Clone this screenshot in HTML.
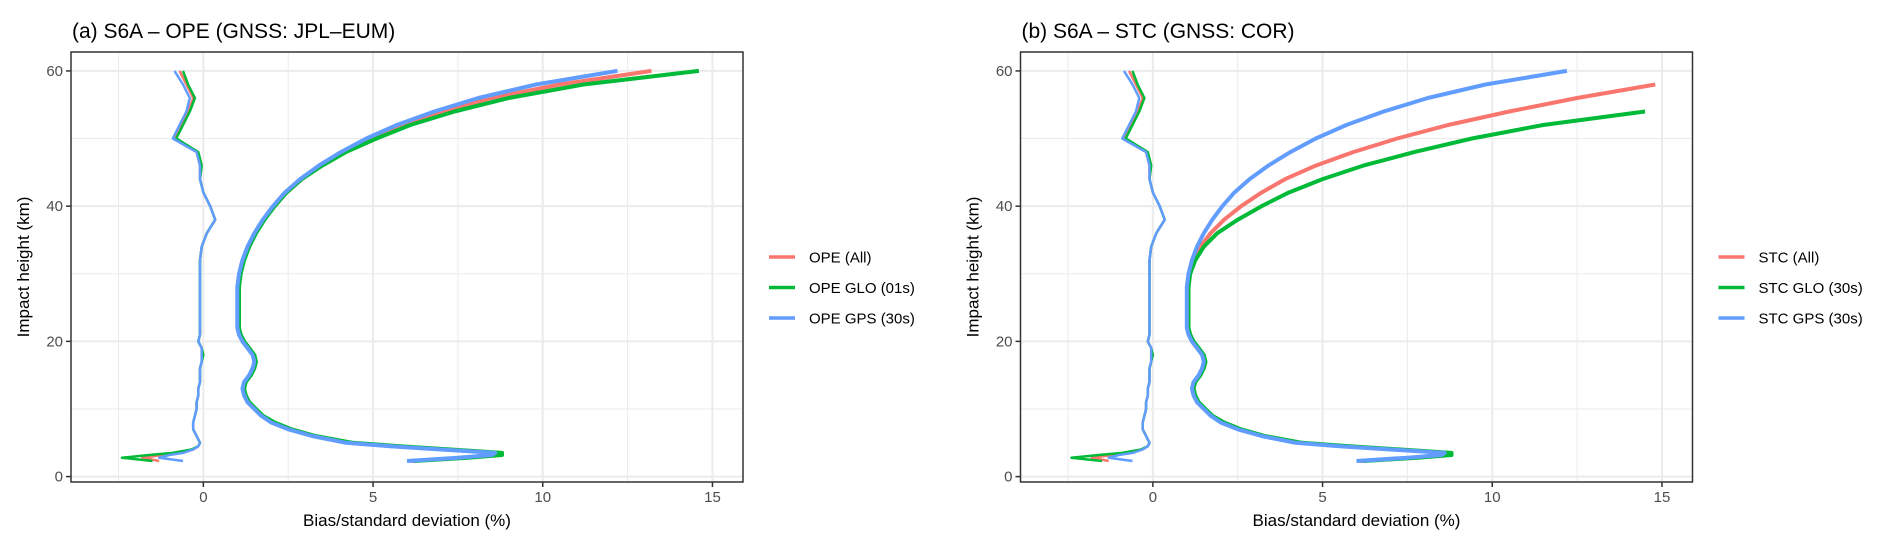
<!DOCTYPE html>
<html><head><meta charset="utf-8"><style>
body{margin:0;background:#fff;}
svg{display:block;font-family:"Liberation Sans",Arial,sans-serif;}
</style></head><body>
<svg id="fig" width="1892" height="549" viewBox="0 0 1892 549" xmlns="http://www.w3.org/2000/svg"></svg>
<script>
const xTicks=[0,5,10,15];
const yTicks=[0,20,40,60];
const H=[2.3,2.8,3.2,3.5,4,4.5,5,6,7,8,9,10,11,12,13,14,15,16,17,18,19,20,21,22,24,26,28,30,32,34,36,38,40,42,44,46,48,50,52,54,56,58,60];
const sdOpeGps=[6.0,7.5,8.5,8.6,7.0,5.5,4.2,3.2,2.5,2.0,1.7,1.5,1.3,1.2,1.15,1.2,1.35,1.45,1.5,1.45,1.3,1.15,1.05,1.0,1.0,1.0,1.0,1.05,1.15,1.3,1.5,1.75,2.05,2.4,2.85,3.4,4.05,4.8,5.7,6.8,8.1,9.8,12.2];
const sdOpeAll=[6.1,7.7,8.7,8.7,7.1,5.6,4.3,3.25,2.55,2.05,1.72,1.52,1.32,1.22,1.17,1.22,1.37,1.47,1.52,1.47,1.32,1.17,1.07,1.02,1.02,1.02,1.02,1.07,1.17,1.32,1.52,1.78,2.1,2.45,2.9,3.45,4.15,4.95,5.9,7.1,8.5,10.5,13.2];
const sdOpeGlo=[6.2,7.8,8.8,8.8,7.3,5.8,4.4,3.3,2.6,2.1,1.75,1.55,1.35,1.25,1.2,1.25,1.4,1.5,1.55,1.5,1.35,1.2,1.1,1.05,1.05,1.05,1.05,1.1,1.2,1.35,1.55,1.8,2.1,2.45,2.9,3.5,4.2,5.1,6.1,7.4,9.0,11.2,14.6];
const sdStcGps=[6.0,7.5,8.5,8.6,7.0,5.5,4.2,3.2,2.5,2.0,1.7,1.5,1.3,1.2,1.15,1.2,1.35,1.45,1.5,1.45,1.3,1.15,1.05,1.0,1.0,1.0,1.0,1.05,1.15,1.3,1.5,1.75,2.05,2.4,2.85,3.4,4.05,4.8,5.7,6.8,8.1,9.8,12.2];
const sdStcAll=[6.1,7.7,8.7,8.7,7.1,5.6,4.3,3.25,2.55,2.05,1.72,1.52,1.32,1.22,1.17,1.22,1.37,1.47,1.52,1.47,1.32,1.17,1.07,1.02,1.02,1.02,1.02,1.07,1.2,1.4,1.7,2.1,2.6,3.2,3.9,4.8,5.9,7.2,8.7,10.5,12.5,14.8,null];
const sdStcGlo=[6.2,7.8,8.8,8.8,7.3,5.8,4.4,3.3,2.6,2.1,1.75,1.55,1.35,1.25,1.2,1.25,1.4,1.5,1.55,1.5,1.35,1.2,1.1,1.05,1.05,1.05,1.05,1.1,1.25,1.5,1.9,2.5,3.2,4.0,5.0,6.2,7.7,9.4,11.5,14.5,null,null,null];
const biasGps=[-0.6,-1.3,-1.0,-0.6,-0.3,-0.15,-0.1,-0.2,-0.3,-0.3,-0.25,-0.2,-0.2,-0.15,-0.15,-0.1,-0.1,-0.1,-0.05,-0.05,-0.05,-0.15,-0.1,-0.1,-0.1,-0.1,-0.1,-0.1,-0.1,-0.05,0.1,0.35,0.2,0.0,-0.1,-0.1,-0.2,-0.9,-0.7,-0.5,-0.4,-0.6,-0.85];
const biasAll=[-1.3,-1.8,-1.2,-0.7,-0.3,-0.15,-0.1,-0.2,-0.3,-0.3,-0.25,-0.2,-0.2,-0.15,-0.15,-0.1,-0.1,-0.1,-0.05,-0.05,-0.05,-0.15,-0.1,-0.1,-0.1,-0.1,-0.1,-0.1,-0.1,-0.05,0.1,0.35,0.2,0.0,-0.1,-0.1,-0.2,-0.85,-0.65,-0.45,-0.3,-0.5,-0.7];
const biasGlo=[-1.5,-2.4,-1.6,-0.9,-0.35,-0.15,-0.1,-0.2,-0.3,-0.3,-0.25,-0.2,-0.2,-0.15,-0.15,-0.1,-0.1,-0.1,-0.05,0.0,-0.05,-0.15,-0.1,-0.1,-0.1,-0.1,-0.1,-0.1,-0.1,-0.05,0.1,0.35,0.2,0.0,-0.1,-0.05,-0.15,-0.8,-0.6,-0.4,-0.25,-0.45,-0.6];

const svg=document.getElementById('fig');
const NS='http://www.w3.org/2000/svg';
function mk(tag,attrs,parent){const e=document.createElementNS(NS,tag);for(const k in attrs)e.setAttribute(k,attrs[k]);(parent||svg).appendChild(e);return e;}
const colors=['#F8766D','#00BA38','#619CFF'];
function panel(off,title,names,sds,biases,key){
  const L=71+off,R=743+off,T=52,B=482;
  const xs=v=>L+(v+3.9)/(19.8)*(R-L);
  const ys=v=>T+(62.8-v)/63.6*(B-T);
  const g=mk('g',{});
  
  
  const t=mk('text',{x:L+1,y:38,'font-size':21,fill:'#000'},g);t.textContent=title;
  
  for(let v=-2.5;v<=15;v+=2.5){const major=xTicks.includes(v);mk('line',{x1:xs(v),x2:xs(v),y1:T,y2:B,stroke:'#EBEBEB','stroke-width':major?2:1},g);}
  for(let v=10;v<=60;v+=10){const major=yTicks.includes(v);mk('line',{x1:L,x2:R,y1:ys(v),y2:ys(v),stroke:'#EBEBEB','stroke-width':major?2:1},g);}
  mk('line',{x1:L,x2:R,y1:ys(0),y2:ys(0),stroke:'#EBEBEB','stroke-width':2},g);
  for(let s=0;s<3;s++){
    for(const [arr,w] of [[biases[s],2.5],[sds[s],4]]){
      let d='';let started=false;
      for(let i=0;i<H.length;i++){if(arr[i]==null)continue;d+=(started?'L':'M')+xs(arr[i]).toFixed(1)+','+ys(H[i]).toFixed(1);started=true;}
      const p=mk('path',{d:d,fill:'none',stroke:colors[s],'stroke-width':w,'stroke-linejoin':'round'},g);
      
      
    }
  }
  const box=mk('rect',{x:L,y:T,width:R-L,height:B-T,fill:'none',stroke:'#333','stroke-width':1.5},g);
  
  xTicks.forEach(v=>{mk('line',{x1:xs(v),x2:xs(v),y1:B,y2:B+5,stroke:'#333','stroke-width':1.5},g);
    const tx=mk('text',{x:xs(v),y:B+20,'font-size':15,fill:'#4D4D4D','text-anchor':'middle'},g);tx.textContent=v;
    });
  yTicks.forEach(v=>{mk('line',{x1:L-5,x2:L,y1:ys(v),y2:ys(v),stroke:'#333','stroke-width':1.5},g);
    const ty=mk('text',{x:L-8,y:ys(v)+5,'font-size':15,fill:'#4D4D4D','text-anchor':'end'},g);ty.textContent=v;
    });
  const xt=mk('text',{x:(L+R)/2,y:526,'font-size':17,fill:'#000','text-anchor':'middle'},g);xt.textContent='Bias/standard deviation (%)';
  
  const yt=mk('text',{x:0,y:0,'font-size':17,fill:'#000','text-anchor':'middle',transform:`translate(${L-42},${(T+B)/2}) rotate(-90)`},g);yt.textContent='Impact height (km)';
  
  for(let s=0;s<3;s++){
    const yy=257+s*30.5;
    const lg=mk('g',{},g);
    
    mk('line',{x1:R+26,x2:R+52,y1:yy,y2:yy,stroke:colors[s],'stroke-width':3.5},lg);
    const lt=mk('text',{x:R+66,y:yy+5.5,'font-size':15,fill:'#000'},lg);lt.textContent=names[s];
  }
}
panel(0,'(a) S6A \u2013 OPE (GNSS: JPL\u2013EUM)',['OPE (All)','OPE GLO (01s)','OPE GPS (30s)'],[sdOpeAll,sdOpeGlo,sdOpeGps],[biasAll,biasGlo,biasGps],'panel-a');
panel(949.5,'(b) S6A \u2013 STC (GNSS: COR)',['STC (All)','STC GLO (30s)','STC GPS (30s)'],[sdStcAll,sdStcGlo,sdStcGps],[biasAll,biasGlo,biasGps],'panel-b');
</script>
</body></html>
